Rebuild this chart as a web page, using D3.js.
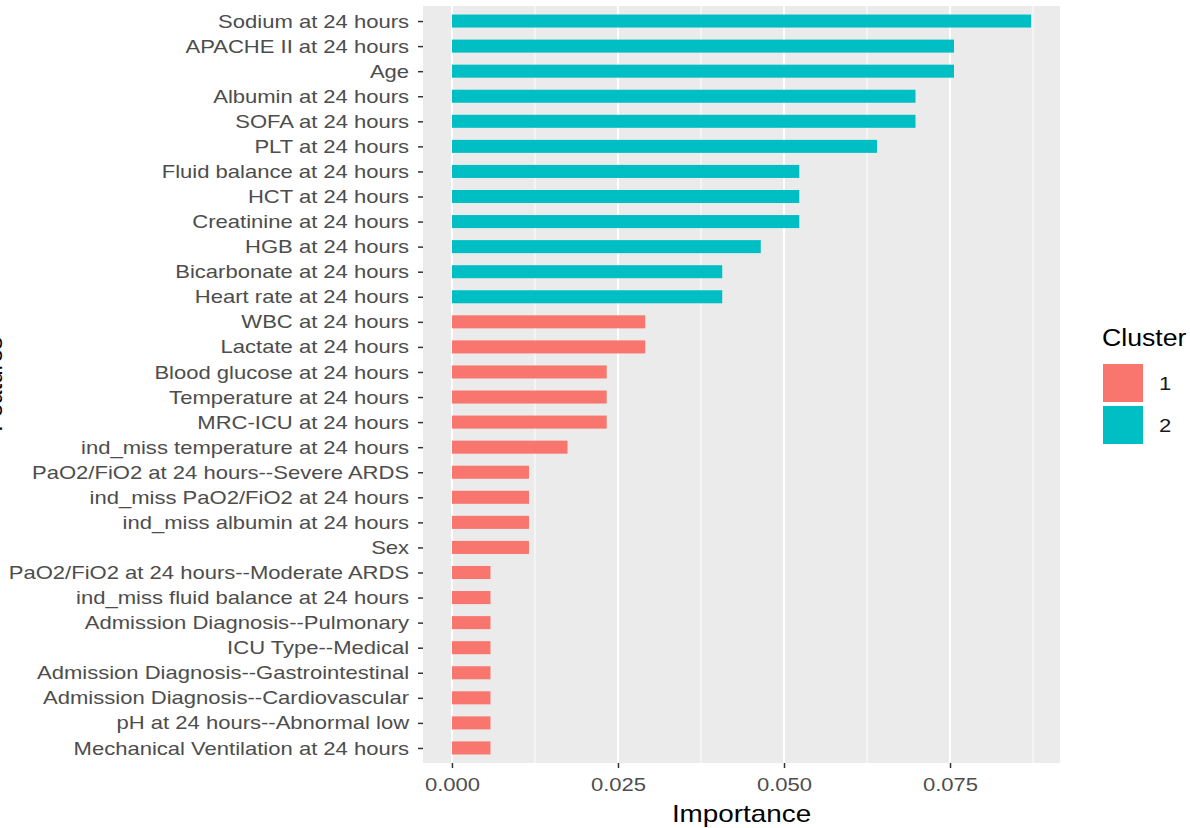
<!DOCTYPE html>
<html>
<head>
<meta charset="utf-8">
<script src="https://cdn.jsdelivr.net/npm/d3@7"></script>
<style>
  body { margin: 0; background: #fff; }
  text { font-family: "Liberation Sans", Arial, sans-serif; }
</style>
</head>
<body>
<div id="chart"></div>
<script>
// features top to bottom
var features = ["Sodium at 24 hours", "APACHE II at 24 hours", "Age", "Albumin at 24 hours",
  "SOFA at 24 hours", "PLT at 24 hours", "Fluid balance at 24 hours", "HCT at 24 hours",
  "Creatinine at 24 hours", "HGB at 24 hours", "Bicarbonate at 24 hours", "Heart rate at 24 hours",
  "WBC at 24 hours", "Lactate at 24 hours", "Blood glucose at 24 hours", "Temperature at 24 hours",
  "MRC-ICU at 24 hours", "ind_miss temperature at 24 hours", "PaO2/FiO2 at 24 hours--Severe ARDS",
  "ind_miss PaO2/FiO2 at 24 hours", "ind_miss albumin at 24 hours", "Sex",
  "PaO2/FiO2 at 24 hours--Moderate ARDS", "ind_miss fluid balance at 24 hours",
  "Admission Diagnosis--Pulmonary", "ICU Type--Medical", "Admission Diagnosis--Gastrointestinal",
  "Admission Diagnosis--Cardiovascular", "pH at 24 hours--Abnormal low",
  "Mechanical Ventilation at 24 hours"]
var importance = [0.0872, 0.0756, 0.0756, 0.0698, 0.0698, 0.0640, 0.0523, 0.0523, 0.0523, 0.0465,
  0.0407, 0.0407, 0.0291, 0.0291, 0.0233, 0.0233, 0.0233, 0.0174, 0.0116, 0.0116, 0.0116, 0.0116,
  0.0058, 0.0058, 0.0058, 0.0058, 0.0058, 0.0058, 0.0058, 0.0058]
var cluster = ["2","2","2","2","2","2","2","2","2","2","2","2",
  "1","1","1","1","1","1","1","1","1","1","1","1","1","1","1","1","1","1"]
var clusterNames = ["1", "2"]
var clusterColors = ["#F8766D", "#00BFC4"]
var xTicks = [0, 0.025, 0.05, 0.075]
var xMinor = [0.0125, 0.0375, 0.0625, 0.0875]

var width = 1190, height = 828
var pl = 423, pr = 1060, pt = 6, pb = 763
var sx = 1.16  // text in the picture is a bit wider than the font

var svg = d3.select("#chart").append("svg")
  .attr("width", width)
  .attr("height", height)

var data = features.map(function(f, i) { return {name: f, value: importance[i], cluster: cluster[i]} })

var maxV = d3.max(importance)
var xScale = d3.scaleLinear()
  .domain([-0.05 * maxV, maxV * 1.05])
  .range([pl, pr])

// discrete axis with 0.6 expansion, like ggplot
var n = features.length
var step = (pb - pt) / (n - 1 + 1.2)
var yPos = d3.scalePoint()
  .domain(features)
  .range([pt + 0.6 * step, pb - 0.6 * step])
var barH = step * 0.52

var color = d3.scaleOrdinal().domain(clusterNames).range(clusterColors)

// panel
svg.append("rect")
  .attr("x", pl).attr("y", pt)
  .attr("width", pr - pl).attr("height", pb - pt)
  .attr("fill", "#EBEBEB")

svg.selectAll(".minor").data(xMinor)
  .enter().append("line")
  .attr("class", "minor")
  .attr("x1", function(d) { return xScale(d) })
  .attr("x2", function(d) { return xScale(d) })
  .attr("y1", pt).attr("y2", pb)
  .attr("stroke", "#fff").attr("stroke-width", 1)

svg.selectAll(".major").data(xTicks)
  .enter().append("line")
  .attr("class", "major")
  .attr("x1", function(d) { return xScale(d) })
  .attr("x2", function(d) { return xScale(d) })
  .attr("y1", pt).attr("y2", pb)
  .attr("stroke", "#fff").attr("stroke-width", 2)

svg.selectAll(".bar").data(data)
  .enter().append("rect")
  .attr("class", "bar")
  .attr("x", xScale(0))
  .attr("y", function(d) { return yPos(d.name) - barH / 2 })
  .attr("width", function(d) { return xScale(d.value) - xScale(0) })
  .attr("height", barH)
  .attr("fill", function(d) { return color(d.cluster) })

// axes
var xAxis = d3.axisBottom(xScale).tickValues(xTicks).tickFormat(d3.format(".3f"))
  .tickSize(5)
var gx = svg.append("g")
  .attr("transform", "translate(0," + pb + ")")
  .call(xAxis)
gx.select(".domain").remove()
gx.selectAll("line").attr("stroke", "#333").attr("stroke-width", 1.5)
gx.selectAll("text").attr("fill", "#4D4D4D").style("font-size", "19px")
  .style("font-family", "Liberation Sans, Arial, sans-serif")
  .attr("y", 15).attr("transform", "scale(" + sx + ",1)")

var yAxis = d3.axisLeft(yPos).tickSize(5)
var gy = svg.append("g")
  .attr("transform", "translate(" + pl + ",0)")
  .call(yAxis)
gy.select(".domain").remove()
gy.selectAll("line").attr("stroke", "#333").attr("stroke-width", 1.5)
gy.selectAll("text").attr("fill", "#4D4D4D").style("font-size", "19px")
  .style("font-family", "Liberation Sans, Arial, sans-serif")
  .attr("x", -12).attr("transform", "scale(" + sx + ",1)")

// titles
svg.append("g")
  .attr("transform", "translate(" + ((pl + pr) / 2) + ",822) scale(" + sx + ",1)")
  .append("text")
  .attr("text-anchor", "middle")
  .style("font-size", "24px")
  .attr("fill", "#000")
  .text("Importance")

svg.append("text")
  .attr("transform", "translate(2," + ((pt + pb) / 2) + ") rotate(-90)")
  .attr("text-anchor", "middle")
  .style("font-size", "24px")
  .attr("fill", "#000")
  .text("Features")

// legend
var lg = svg.append("g").attr("transform", "translate(1103,0)")
lg.append("text")
  .attr("transform", "translate(-1,346) scale(" + sx + ",1)")
  .style("font-size", "23px")
  .attr("fill", "#000")
  .text("Cluster")

lg.selectAll(".key").data(clusterNames)
  .enter().append("rect")
  .attr("class", "key")
  .attr("x", 0)
  .attr("y", function(d, i) { return 364 + i * 42 })
  .attr("width", 40).attr("height", 38)
  .attr("fill", function(d) { return color(d) })

lg.selectAll(".klab").data(clusterNames)
  .enter().append("text")
  .attr("class", "klab")
  .attr("transform", function(d, i) { return "translate(56," + (364 + i * 42 + 26) + ") scale(" + sx + ",1)" })
  .style("font-size", "19px")
  .attr("fill", "#1a1a1a")
  .text(function(d) { return d })
</script>
</body>
</html>
